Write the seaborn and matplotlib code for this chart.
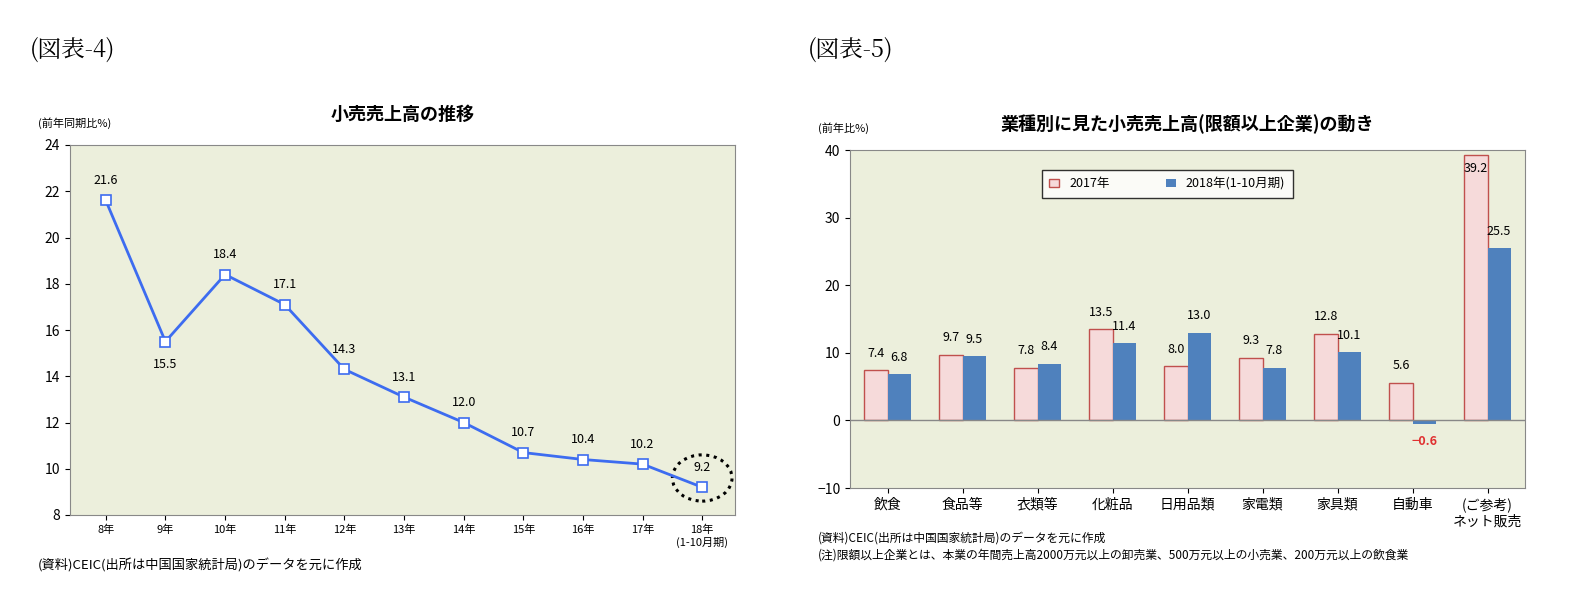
import numpy as np
import pandas as pd
import matplotlib.pyplot as plt
import matplotlib as mpl
import seaborn as sns
from matplotlib.patches import Ellipse

mpl.rcParams['font.family'] = 'Noto Sans CJK JP'

# left chart data
years = ['8年', '9年', '10年', '11年', '12年', '13年', '14年', '15年', '16年', '17年', '18年\n(1-10月期)']
sales = [21.6, 15.5, 18.4, 17.1, 14.3, 13.1, 12.0, 10.7, 10.4, 10.2, 9.2]

# right chart data
cats = ['飲食', '食品等', '衣類等', '化粧品', '日用品類', '家電類', '家具類', '自動車', '(ご参考)\nネット販売']
v2017 = [7.4, 9.7, 7.8, 13.5, 8.0, 9.3, 12.8, 5.6, 39.2]
v2018 = [6.8, 9.5, 8.4, 11.4, 13.0, 7.8, 10.1, -0.6, 25.5]

W, H = 1585, 607
fig = plt.figure(figsize=(W / 100, H / 100), dpi=100)
BG = '#ecefdc'

def px(x0, y0, x1, y1):
    return [x0 / W, 1 - y1 / H, (x1 - x0) / W, (y1 - y0) / H]

fig.text(30 / W, 1 - 50 / H, '(図表-4)', fontsize=17, family='Noto Serif CJK JP', va='center')
fig.text(808 / W, 1 - 50 / H, '(図表-5)', fontsize=17, family='Noto Serif CJK JP', va='center')

# ---- left
ax = fig.add_axes(px(70, 145, 735, 515))
ax.set_facecolor(BG)
x = np.arange(len(years))
sns.lineplot(x=x, y=sales, ax=ax, color='#3d6cf0', lw=2, marker='s', markersize=7,
             markerfacecolor='white', markeredgecolor='#3d6cf0', markeredgewidth=1.2)
for i, v in enumerate(sales):
    dy = -1.0 if i == 1 else 0.85
    ax.text(i, v + dy, f'{v:.1f}', ha='center', va='center', fontsize=9)
ax.add_patch(Ellipse((10, 9.6), 1.0, 2.0, fill=False, ls=(0, (1, 1.5)), lw=2.2,
                     color='black', clip_on=False))
ax.set_ylim(8, 24)
ax.set_yticks(range(8, 25, 2))
ax.set_xlim(-0.6, len(years) - 0.45)
ax.set_xticks(x)
ax.set_xticklabels(years, fontsize=8)
ax.tick_params(axis='y', labelsize=10)
for s in ax.spines.values():
    s.set_color('#888888')
ax.set_title('小売売上高の推移', fontsize=13, fontweight='bold', pad=18)
fig.text(38 / W, 1 - 127 / H, '(前年同期比%)', fontsize=8)
fig.text(38 / W, 1 - 565 / H, '(資料)CEIC(出所は中国国家統計局)のデータを元に作成', fontsize=9.5, va='center')

# ---- right
ax2 = fig.add_axes(px(850, 150, 1525, 488))
ax2.set_facecolor(BG)
df = pd.DataFrame({'cat': cats * 2, 'val': v2017 + v2018,
                   'year': ['2017年'] * len(cats) + ['2018年(1-10月期)'] * len(cats)})
sns.barplot(data=df, x='cat', y='val', hue='year', ax=ax2, width=0.62, gap=0,
            palette=['#f6dada', '#4f81bd'], saturation=1)
bars = ax2.patches
for p in bars[:len(cats)]:
    p.set_edgecolor('#c0504d')
    p.set_linewidth(1)
for i in range(len(cats)):
    for j, vals in enumerate([v2017, v2018]):
        v = vals[i]
        b = bars[j * len(cats) + i]
        xc = b.get_x() + b.get_width() / 2
        if v < 0:
            ax2.text(xc, v - 2.5, f'{v:.1f}'.replace('-', '−'), ha='center', va='center',
                     fontsize=9, color='#e03030', fontweight='bold')
        elif v > 30:
            ax2.text(xc, v - 2, f'{v:.1f}', ha='center', va='center', fontsize=9)
        else:
            ax2.text(xc, v + 2.5, f'{v:.1f}', ha='center', va='center', fontsize=9)
ax2.axhline(0, color='#888888', lw=1)
ax2.set_ylim(-10, 40)
ax2.set_yticks(range(-10, 41, 10))
ax2.set_xlabel('')
ax2.set_ylabel('')
ax2.tick_params(axis='x', labelsize=10)
ax2.tick_params(axis='y', labelsize=10)
for s in ax2.spines.values():
    s.set_color('#888888')
leg = ax2.legend(loc='upper center', bbox_to_anchor=(0.47, 0.96), ncol=2, frameon=True,
                 fancybox=False, edgecolor='black', fontsize=9, handlelength=0.8,
                 columnspacing=4.5, borderpad=0.6)
leg.legend_handles[0].set_edgecolor('#c0504d')
ax2.set_title('業種別に見た小売売上高(限額以上企業)の動き', fontsize=13, fontweight='bold', pad=14)
fig.text(818 / W, 1 - 132 / H, '(前年比%)', fontsize=8)
fig.text(818 / W, 1 - 538 / H, '(資料)CEIC(出所は中国国家統計局)のデータを元に作成', fontsize=8.5, va='center')
fig.text(818 / W, 1 - 555 / H, '(注)限額以上企業とは、本業の年間売上高2000万元以上の卸売業、500万元以上の小売業、200万元以上の飲食業',
         fontsize=8.5, va='center')

fig.savefig('out.png', dpi=100, facecolor='white')
